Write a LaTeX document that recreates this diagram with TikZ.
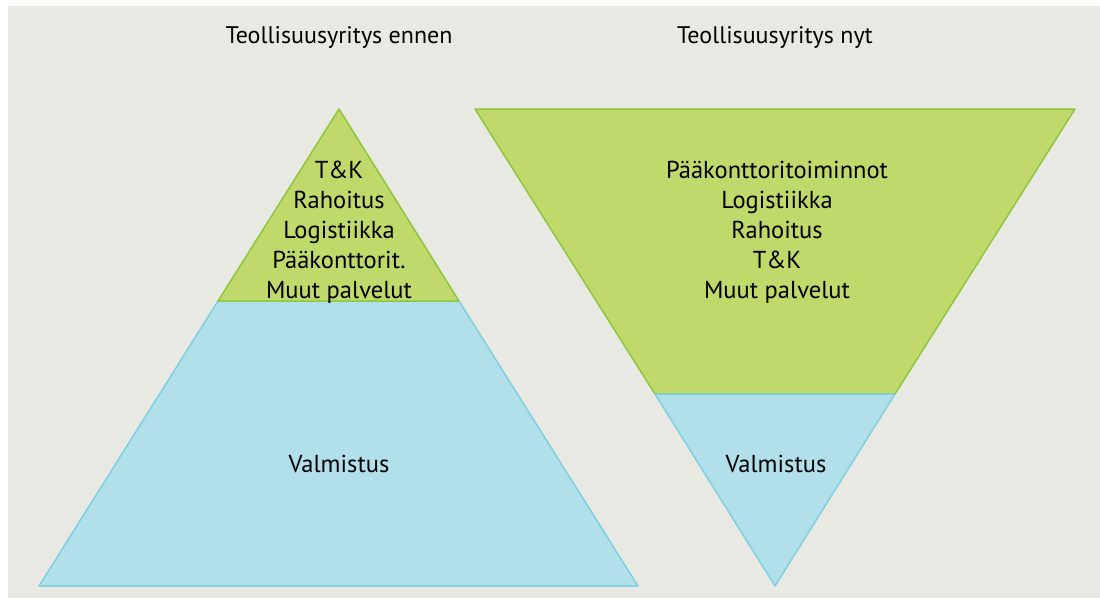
\documentclass[tikz,border=0pt]{standalone}
\usepackage{fontspec}
\setmainfont{PT Sans}
\usepackage{xcolor}
\usetikzlibrary{positioning}

\definecolor{bggray}{HTML}{E9E9E4}
\definecolor{greenfill}{HTML}{BFD96B}
\definecolor{greenline}{HTML}{8DC63F}
\definecolor{bluefill}{HTML}{B1DFEA}
\definecolor{blueline}{HTML}{7ECFE0}

\begin{document}
\begin{tikzpicture}[x=1pt, y=-1pt, line join=round,
    green part/.style={fill=greenfill, draw=greenline, line width=1.5pt},
    blue part/.style={fill=bluefill, draw=blueline, line width=1.5pt},
    title/.style={font=\fontsize{24}{28}\selectfont},
    label/.style={align=center, font=\fontsize{24.5}{30}\selectfont}]

  \useasboundingbox (0,0) rectangle (1100,598);
  \fill[bggray] (8,6) rectangle (1100,598);

  % pyramid, before
  \coordinate (Ltop) at (339,109);
  \coordinate (Lml) at (218,301);
  \coordinate (Lmr) at (459,301);
  \coordinate (Lbl) at (39,586);
  \coordinate (Lbr) at (638,586);

  \path[blue part] (Lml) -- (Lmr) -- (Lbr) -- (Lbl) -- cycle;
  \path[green part] (Ltop) -- (Lmr) -- (Lml) -- cycle;

  % pyramid, now
  \coordinate (Rtl) at (475,109);
  \coordinate (Rtr) at (1075,109);
  \coordinate (Rml) at (655,394);
  \coordinate (Rmr) at (895,394);
  \coordinate (Rbot) at (775,586);

  \path[green part] (Rtl) -- (Rtr) -- (Rmr) -- (Rml) -- cycle;
  \path[blue part] (Rml) -- (Rmr) -- (Rbot) -- cycle;

  \node[title] (Lhead) at (339,37) {Teollisuusyritys ennen};
  \node[title] (Rhead) at (775,37) {Teollisuusyritys nyt};

  \node[label] (Lserv) at (339,232) {T\&K\\Rahoitus\\Logistiikka\\Pääkonttorit.\\Muut palvelut};
  \node[label] (Lmake) at (339,464) {Valmistus};
  \node[label] (Rserv) at (777,232) {Pääkonttoritoiminnot\\Logistiikka\\Rahoitus\\T\&K\\Muut palvelut};
  \node[label] (Rmake) at (776,464) {Valmistus};

\end{tikzpicture}
\end{document}
